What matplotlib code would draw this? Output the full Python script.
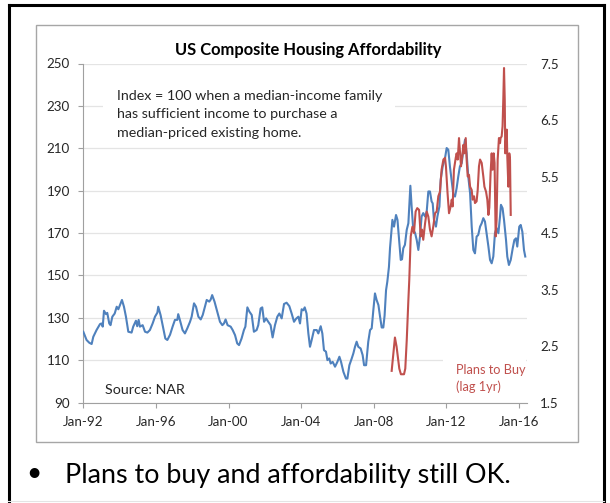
import matplotlib
matplotlib.use("Agg")
import matplotlib.pyplot as plt
from matplotlib.patches import Rectangle
from matplotlib.lines import Line2D

plt.rcParams['font.family'] = ['Lato', 'DejaVu Sans']

W, H = 610, 503

# affordability index (left axis), decimal years
afford_years = [
    1992.0, 1992.18, 1992.33, 1992.46, 1992.55, 1992.73, 1992.92, 1993.0, 1993.07, 1993.14,
    1993.25, 1993.32, 1993.43, 1993.5, 1993.6, 1993.73, 1993.84, 1993.93, 1994.02, 1994.13,
    1994.24, 1994.35, 1994.48, 1994.66, 1994.75, 1994.9, 1994.97, 1995.05, 1995.12, 1995.27,
    1995.4, 1995.53, 1995.67, 1995.82, 1995.95, 1996.08, 1996.13, 1996.26, 1996.41, 1996.52,
    1996.63, 1996.78, 1996.92, 1997.05, 1997.18, 1997.23, 1997.32, 1997.47, 1997.6, 1997.73,
    1997.88, 1997.97, 1998.1, 1998.21, 1998.34, 1998.47, 1998.58, 1998.7, 1998.8, 1998.94,
    1999.02, 1999.1, 1999.23, 1999.38, 1999.53, 1999.66, 1999.75, 1999.84, 1999.95, 2000.12,
    2000.23, 2000.36, 2000.48, 2000.58, 2000.72, 2000.85, 2000.93, 2001.04, 2001.15, 2001.28,
    2001.4, 2001.55, 2001.64, 2001.77, 2001.86, 2001.96, 2002.07, 2002.19, 2002.32, 2002.43,
    2002.56, 2002.69, 2002.8, 2002.93, 2003.06, 2003.2, 2003.35, 2003.48, 2003.61, 2003.72,
    2003.85, 2003.94, 2004.03, 2004.12, 2004.2, 2004.3, 2004.4, 2004.49, 2004.58, 2004.71,
    2004.86, 2004.95, 2005.08, 2005.17, 2005.26, 2005.37, 2005.45, 2005.55, 2005.63, 2005.74,
    2005.87, 2006.0, 2006.11, 2006.2, 2006.33, 2006.47, 2006.55, 2006.66, 2006.79, 2006.88,
    2006.97, 2007.06, 2007.15, 2007.28, 2007.39, 2007.47, 2007.58, 2007.7, 2007.8, 2007.89,
    2007.98, 2008.07, 2008.16, 2008.26, 2008.35, 2008.44, 2008.53, 2008.6, 2008.68, 2008.75,
    2008.84, 2008.9, 2008.95, 2009.03, 2009.12, 2009.23, 2009.31, 2009.41, 2009.49, 2009.56,
    2009.63, 2009.72, 2009.82, 2009.91, 2009.96, 2010.02, 2010.09, 2010.18, 2010.28, 2010.37,
    2010.46, 2010.55, 2010.64, 2010.73, 2010.83, 2010.92, 2011.01, 2011.1, 2011.19, 2011.25,
    2011.32, 2011.43, 2011.51, 2011.62, 2011.69, 2011.8, 2011.93, 2012.02, 2012.11, 2012.2,
    2012.29, 2012.39, 2012.48, 2012.57, 2012.66, 2012.75, 2012.85, 2012.94, 2013.03, 2013.12,
    2013.21, 2013.31, 2013.4, 2013.49, 2013.58, 2013.67, 2013.76, 2013.86, 2013.95, 2014.04,
    2014.13, 2014.22, 2014.32, 2014.41, 2014.5, 2014.59, 2014.68, 2014.77, 2014.87, 2014.96,
    2015.01, 2015.1, 2015.18, 2015.29, 2015.36, 2015.45, 2015.55, 2015.66, 2015.75, 2015.84,
    2015.91, 2016.02, 2016.1, 2016.19, 2016.28, 2016.35,
]
afford_index = [
    123.4, 119.5, 118.2, 117.6, 121, 124.2, 127, 127.3, 125.8, 133.3,
    131.7, 132.3, 127.3, 126.5, 130.5, 132, 135.2, 134, 136, 138.4,
    135.2, 130.5, 123.4, 123, 125.8, 128.6, 126, 129, 125.8, 126.5,
    123.4, 123, 124.2, 127.3, 130.5, 132.4, 135.2, 131.2, 125, 120.2,
    119.5, 122, 125.8, 129, 129, 131.7, 129, 124.2, 122.6, 125,
    128.1, 130.5, 136.8, 135.2, 130.5, 129.2, 131.3, 135.2, 138.4, 137.6,
    138.6, 140.7, 137.6, 132.9, 128.1, 126.5, 127.3, 129.2, 126.5, 125.8,
    124.2, 121.8, 117.9, 117.1, 120.2, 124.2, 125.8, 134.9, 132.9, 131.3,
    123.4, 124.2, 126.5, 134.4, 134.9, 128.1, 129.7, 128.1, 126.5, 120.7,
    126.5, 130.5, 132, 129.7, 136.5, 137.1, 135.5, 132, 128.1, 129.5,
    130.5, 127.3, 134, 133.5, 134.9, 132, 122.6, 116.3, 119.4, 124.2,
    124.2, 122.6, 126, 122.6, 114.7, 114, 110, 110.8, 108.4, 109.2,
    106.9, 109.2, 111.6, 109.2, 104.5, 101.3, 101.3, 107.6, 110.8, 113.2,
    116.3, 118.7, 116.3, 115.5, 112.4, 107.6, 107.6, 118.7, 124.2, 125,
    133.6, 141.5, 138.4, 136, 130.5, 125.4, 125.4, 131, 143, 147,
    154, 163, 168, 176.2, 173, 178.5, 176.2, 166, 157.3, 157.6,
    162.8, 164.4, 171.5, 174.6, 182.5, 192.3, 182.5, 171.5, 170, 166.7,
    162, 168.3, 177.8, 179.4, 177.8, 180.1, 189.6, 189.6, 184.9, 184,
    176.2, 173, 177.8, 182.5, 195.1, 201.4, 205.4, 210.1, 209.3, 201.4,
    195.1, 188, 187.2, 191.2, 196.7, 201.4, 203, 209.3, 214, 207.7,
    196.7, 188.8, 173, 162, 160.4, 168.3, 169.1, 173, 174.6, 177,
    175.4, 169.9, 163.6, 157.3, 155.7, 158.9, 169.9, 172.3, 169.9, 177.8,
    183.3, 181.7, 176.2, 166.7, 158.9, 154.9, 157.3, 162.8, 166.7, 167.5,
    163.6, 173, 173.8, 170.6, 162, 158.9,
]

# plans to buy, lagged one year (right axis)
plans_years = [
    2008.99, 2009.17, 2009.26, 2009.41, 2009.5, 2009.67, 2009.74, 2009.82, 2009.91, 2009.96,
    2010.04, 2010.13, 2010.22, 2010.31, 2010.4, 2010.5, 2010.59, 2010.66, 2010.73, 2010.83,
    2010.92, 2011.01, 2011.1, 2011.19, 2011.28, 2011.38, 2011.47, 2011.56, 2011.65, 2011.74,
    2011.84, 2011.93, 2011.98, 2012.07, 2012.15, 2012.24, 2012.3, 2012.35, 2012.42, 2012.52,
    2012.57, 2012.63, 2012.7, 2012.76, 2012.81, 2012.88, 2012.94, 2012.99, 2013.07, 2013.12,
    2013.18, 2013.25, 2013.31, 2013.4, 2013.45, 2013.53, 2013.58, 2013.67, 2013.73, 2013.8,
    2013.86, 2013.95, 2014.04, 2014.1, 2014.19, 2014.26, 2014.32, 2014.37, 2014.44, 2014.5,
    2014.55, 2014.61, 2014.66, 2014.72, 2014.77, 2014.83, 2014.9, 2014.96, 2014.99, 2015.05,
    2015.1, 2015.14, 2015.18, 2015.22, 2015.25, 2015.29, 2015.33, 2015.36, 2015.42, 2015.47,
    2015.51, 2015.55,
]
plans_value = [
    2.06, 2.65, 2.49, 2.10, 2.0, 2.0, 2.10, 2.60, 3.31, 3.67,
    4.44, 4.61, 4.5, 4.88, 4.94, 4.91, 4.44, 4.56, 4.38, 4.67,
    4.88, 4.79, 4.56, 4.44, 4.61, 4.85, 4.88, 5.15, 5.23, 5.62,
    5.8, 5.83, 5.68, 5.2, 4.85, 4.97, 5.09, 4.97, 5.62, 5.83,
    5.91, 5.8, 6.18, 5.91, 5.68, 5.86, 6.06, 5.91, 6.18, 5.8,
    5.5, 5.53, 5.32, 5.26, 5.09, 5.15, 5.03, 5.06, 5.26, 5.68,
    5.8, 5.74, 5.5, 5.32, 5.23, 5.09, 4.82, 4.95, 5.56, 5.91,
    5.62, 5.91, 5.74, 4.44, 4.73, 5.8, 6.18, 6.09, 6.18, 6.21,
    6.39, 6.86, 7.42, 6.86, 5.91, 6.15, 6.33, 5.86, 5.32, 5.91,
    5.8, 4.82,
]

xtick_years = [1992, 1996, 2000, 2004, 2008, 2012, 2016]
xtick_labels = ['Jan-92', 'Jan-96', 'Jan-00', 'Jan-04', 'Jan-08', 'Jan-12', 'Jan-16']
left_ticks = [90, 110, 130, 150, 170, 190, 210, 230, 250]
right_ticks = [1.5, 2.5, 3.5, 4.5, 5.5, 6.5, 7.5]

title = 'US Composite Housing Affordability'
note_lines = ['Index = 100 when a median-income family',
              'has sufficient income to purchase a',
              'median-priced existing home.']
source = 'Source: NAR'
plans_label = ['Plans to Buy', '(lag 1yr)']
bullet_text = 'Plans to buy and affordability still OK.'

BLUE = '#4F81BD'
RED = '#C0504D'
TXT = '#262626'


def fx(px):
    return px / W


def fy(py):
    return 1 - py / H


fig = plt.figure(figsize=(W / 100, H / 100), dpi=100)

# slide frame (black) and chart area border (grey)
for xs, ys in [([8.7, 8.7], [5.4, 510]), ([8.7, 603.5], [5.4, 5.4]), ([603.5, 603.5], [5.4, 510])]:
    fig.add_artist(Line2D([fx(x) for x in xs], [fy(y) for y in ys], color='black', lw=2.2))
fig.add_artist(Line2D([fx(8), fx(604)], [fy(500.5), fy(500.5)], color='#e4e4e4', lw=0.8))
fig.add_artist(Rectangle((fx(36), fy(441.5)), fx(577.5) - fx(36), fy(24.5) - fy(441.5),
                         facecolor='none', edgecolor='#a6a6a6', lw=1.0))

ax_l, ax_r, ax_t, ax_b = 83.3, 526.5, 63.5, 402.5
ax = fig.add_axes([fx(ax_l), fy(ax_b), fx(ax_r) - fx(ax_l), fy(ax_t) - fy(ax_b)])
ax2 = ax.twinx()

ax.set_xlim(1992.0, 1992.0 + (ax_r - ax_l) / 18.15)
ax.set_ylim(90, 250)
ax2.set_ylim(1.5, 7.5)

ax.set_yticks(left_ticks)
ax.set_yticklabels([str(t) for t in left_ticks])
ax2.set_yticks(right_ticks)
ax2.set_yticklabels([f'{t:.1f}' for t in right_ticks])
ax.set_xticks(xtick_years)
ax.set_xticklabels(xtick_labels)

ax.set_axisbelow(True)
ax.grid(axis='y', color='#e4e4e4', lw=0.9)
for s in ['top', 'right']:
    ax.spines[s].set_visible(False)
for s in ['top', 'right', 'left', 'bottom']:
    ax2.spines[s].set_visible(False)
ax.spines['left'].set_color('#a0a0a0')
ax.spines['bottom'].set_color('#a0a0a0')
ax.tick_params(axis='both', colors='#a0a0a0', labelcolor=TXT, labelsize=9.6, length=3.6, width=0.8)
ax.tick_params(axis='y', pad=6)
ax.tick_params(axis='x', pad=6)
ax2.tick_params(axis='y', length=0, labelcolor=TXT, labelsize=9.6, pad=10)

# white text boxes hiding gridlines
ax.add_patch(Rectangle((fx(103), fy(143)), fx(395) - fx(103), fy(80) - fy(143),
                       transform=fig.transFigure, facecolor='white', edgecolor='none', zorder=1))
ax.add_patch(Rectangle((fx(443), fy(398)), fx(526) - fx(443), fy(356) - fy(398),
                       transform=fig.transFigure, facecolor='white', edgecolor='none', zorder=1))

ax.plot(afford_years, afford_index, color=BLUE, lw=1.5, zorder=3)
ax2.plot(plans_years, plans_value, color=RED, lw=1.5, zorder=3)

fig.text(fx(308.5), fy(55.5), title, ha='center', va='baseline', fontsize=11.9,
         fontweight='bold', color='black')
for i, line in enumerate(note_lines):
    fig.text(fx(117), fy(100 + 18.3 * i), line, ha='left', va='baseline', fontsize=10.25, color=TXT)
fig.text(fx(105), fy(394), source, ha='left', va='baseline', fontsize=10.25, color=TXT)
for i, line in enumerate(plans_label):
    fig.text(fx(456.5), fy(374.5 + 16.7 * i), line, ha='left', va='baseline', fontsize=9.2,
             color=RED)

fig.text(fx(34), fy(473), '\u2022', ha='center', va='center', fontsize=19, color='black')
fig.text(fx(65), fy(483.3), bullet_text, ha='left', va='baseline', fontsize=19.4, color='black')

fig.savefig('out.png', dpi=100)
